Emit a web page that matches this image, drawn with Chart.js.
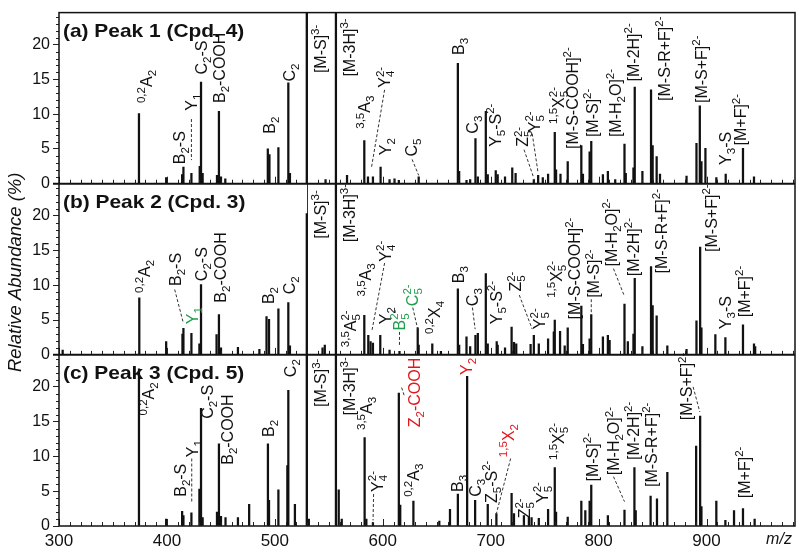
<!DOCTYPE html>
<html><head><meta charset="utf-8">
<script src="https://cdn.jsdelivr.net/npm/chart.js@4.4.1/dist/chart.umd.min.js"></script>
<style>html,body{margin:0;padding:0;background:#fff}canvas{display:block}</style>
</head><body>
<canvas id="c" width="800" height="548"></canvas>
<script>
// ---- data ----
const xTicks = [300, 400, 500, 600, 700, 800, 900];
const yTicks = [0, 5, 10, 15, 20];
const panelTitles = ['(a) Peak 1 (Cpd. 4)', '(b) Peak 2 (Cpd. 3)', '(c) Peak 3 (Cpd. 5)'];
const refLines = [529.6, 556.6];  // [M-S]3- and [M-3H]3- markers

// [m/z, relative abundance %] ; 40 = off-scale peak
const peaksA = [[374.1,10.1],[399.3,0.9],[414.1,1.3],[415.3,2.4],[422.7,1.5],[430.4,2.5],[431.6,14.6],[433.1,1.5],[446.4,1.2],[448.2,10.4],[450.1,1.0],[454.1,0.7],[493.5,5.0],[495.0,4.2],[503.3,5.2],[512.5,14.5],[514.0,1.5],[529.6,40],[547.0,0.6],[556.6,40],[566.9,1.2],[582.9,6.2],[586.3,1.0],[590.9,1.0],[598.0,2.4],[606.3,0.6],[610.9,0.7],[614.9,0.5],[633.3,1.0],[669.6,17.3],[670.8,1.8],[677.6,0.5],[681.0,0.6],[685.9,6.5],[688.1,1.0],[695.5,10.4],[697.3,1.3],[704.7,1.9],[706.5,1.3],[713.3,1.0],[720.0,2.3],[723.1,1.5],[740.0,0.6],[744.0,1.2],[748.3,0.9],[753.2,1.4],[759.4,7.4],[760.6,2.0],[764.7,1.4],[771.4,3.2],[784.0,5.5],[785.5,1.4],[791.7,4.6],[793.2,6.1],[804.0,1.3],[808.6,1.8],[815.4,0.6],[824.0,5.7],[825.2,1.5],[832.3,2.3],[833.5,13.9],[840.6,1.8],[848.6,13.5],[850.1,5.5],[853.8,3.9],[856.9,1.4],[881.5,1.1],[890.7,5.8],[893.8,11.2],[895.3,3.2],[899.0,5.1],[909.1,0.9],[917.8,1.4],[933.8,5.1],[944.0,1.0]];
const peaksB = [[303.4,0.7],[374.4,8.2],[399.3,1.9],[414.4,3.0],[415.3,3.8],[422.7,3.1],[430.1,1.6],[431.6,10.1],[446.0,2.9],[448.2,5.8],[450.1,1.0],[465.8,1.1],[485.7,0.8],[492.3,5.5],[494.6,5.1],[503.3,6.6],[512.5,7.5],[514.0,1.3],[529.6,20.3],[544.2,1.0],[546.3,1.4],[556.6,40],[582.9,5.7],[586.6,2.8],[588.7,1.9],[590.9,1.7],[597.7,2.8],[606.3,0.7],[615.5,0.5],[632.4,3.9],[633.3,1.4],[645.9,1.6],[653.9,0.5],[669.6,9.5],[670.8,1.4],[677.6,2.6],[681.0,1.2],[685.9,2.8],[688.1,3.1],[695.5,11.7],[697.3,1.6],[705.6,1.9],[706.5,1.4],[713.3,1.0],[719.4,4.0],[721.6,1.8],[723.7,1.6],[737.0,1.5],[740.0,2.8],[744.6,1.6],[753.2,2.3],[758.5,3.3],[759.4,5.0],[764.3,3.4],[768.6,1.3],[771.4,3.9],[784.0,7.0],[785.5,1.5],[791.7,2.3],[793.2,5.8],[804.0,2.6],[808.6,2.8],[810.2,2.1],[824.0,7.3],[827.1,1.9],[832.3,3.0],[833.5,11.0],[840.6,1.2],[848.6,12.7],[850.1,7.1],[853.8,5.6],[863.7,1.3],[881.5,0.8],[890.7,4.9],[894.1,15.5],[895.3,3.9],[908.2,2.9],[917.5,2.5],[933.8,4.3],[944.0,1.6],[945.1,1.2]];
const peaksC = [[374.1,22.6],[399.3,1.0],[414.1,2.1],[415.3,1.5],[422.7,1.9],[430.1,5.3],[431.6,16.9],[433.1,1.2],[446.4,2.0],[448.2,11.8],[450.1,1.4],[454.3,1.2],[465.8,1.2],[476.2,3.1],[493.6,11.8],[494.6,3.7],[503.3,5.2],[511.6,8.7],[512.5,19.5],[518.6,3.1],[529.6,40],[531.5,1.0],[556.6,40],[559.2,5.2],[562.0,1.0],[583.2,12.7],[584.8,1.0],[590.9,0.5],[614.9,19.1],[616.2,3.0],[628.4,3.6],[652.4,0.7],[662.3,2.4],[669.6,4.6],[678.2,21.5],[685.6,3.7],[697.3,3.1],[705.3,1.8],[719.4,4.7],[721.6,1.8],[730.8,1.5],[735.4,1.3],[737.9,1.2],[744.6,1.1],[753.2,2.4],[759.4,8.4],[760.6,2.0],[771.4,1.3],[784.0,3.6],[787.7,2.2],[791.7,3.6],[793.2,5.9],[808.6,1.5],[824.0,2.3],[833.2,8.4],[834.4,2.2],[848.2,4.3],[854.1,3.9],[863.7,7.7],[890.4,11.5],[894.1,15.8],[895.3,2.8],[909.1,3.6],[917.5,0.8],[925.5,2.2],[933.8,2.5],[944.6,1.0]];

// ---- annotations (label text, m/z, abundance at text start, optional colour & dashed leader) ----
const GREEN = '#1d9f4c', RED = '#e3161e';
const labelsA = [
 {x:380.9,y:11.6,t:'^{0,2}A_2'},{x:411.6,y:2.8,t:'B_2-S'},{x:422.4,y:10.5,t:'Y_1',lead:[422.7,9.3,422.7,3.4]},
 {x:431.6,y:15.7,t:'C_2-S'},{x:448.5,y:11.6,t:'B_2-COOH'},{x:495,y:7.2,t:'B_2'},{x:513.4,y:14.7,t:'C_2'},
 {x:541.7,y:15.9,t:'[M-S]^{3-}'},{x:568.7,y:15.4,t:'[M-3H]^{3-}'},{x:583.2,y:7.9,t:'^{3,5}A_3'},
 {x:601.7,y:13.8,t:'Y_4^{2-}',lead:[601.7,13.5,589.4,2.2]},{x:602.6,y:4.1,t:'Y_2'},
 {x:626.3,y:3.9,t:'C_5',lead:[627.2,3.5,633.3,1.2]},{x:669.9,y:18.5,t:'B_3'},{x:683.1,y:7.2,t:'C_3'},
 {x:703.8,y:5.3,t:'Y_5-S^{2-}'},{x:729.5,y:5.3,t:'Z_5^{2-}',lead:[730.9,4.9,740,0.8]},
 {x:740,y:7.4,t:'Y_5^{2-}',lead:[738.5,7.2,744,1.5]},{x:762.5,y:8.6,t:'^{1,5}X_5^{2-}'},
 {x:775.4,y:5.0,t:'[M-S-COOH]^{2-}'},{x:793.8,y:6.7,t:'[M-S]^{2-}'},{x:815.4,y:6.7,t:'[M-H_2O]^{2-}'},
 {x:831.7,y:14.7,t:'[M-2H]^{2-}'},{x:860.9,y:11.9,t:'[M-S-R+F]^{2-}'},{x:895.3,y:11.6,t:'[M-S+F]^{2-}'},
 {x:916.9,y:2.7,t:'Y_3-S'},{x:931.7,y:5.5,t:'[M+F]^{2-}'}
];
const labelsB = [
 {x:378.7,y:8.9,t:'^{0,2}A_2'},{x:407.9,y:9.9,t:'B_2-S',lead:[407.2,9.4,415,4.7]},{x:423.3,y:4.4,t:'Y_1',c:GREEN},
 {x:431.9,y:10.6,t:'C_2-S'},{x:449.4,y:7.5,t:'B_2-COOH'},{x:494,y:7.3,t:'B_2'},{x:513.4,y:8.7,t:'C_2'},
 {x:541.7,y:16.7,t:'[M-S]^{3-}'},{x:568.7,y:16.2,t:'[M-3H]^{3-}'},{x:570,y:1.1,t:'^{3,5}A_5^{2-}'},
 {x:584.1,y:8.4,t:'^{3,5}A_3'},{x:602,y:13.4,t:'Y_4^{2-}',lead:[601.7,13.2,590,3.5]},{x:602.3,y:4.4,t:'Y_2'},
 {x:614.9,y:3.5,t:'B_5^{2-}',c:GREEN,lead:[615.5,3.3,615.5,1.2]},{x:627.2,y:7.0,t:'C_5^{2-}',c:GREEN,lead:[627.8,6.8,632.4,3.7]},
 {x:647.8,y:3.0,t:'^{0,2}X_4'},{x:670.2,y:10.3,t:'B_3'},{x:683.1,y:7.0,t:'C_3',lead:[683.1,6.8,685.6,3.7]},
 {x:705.3,y:4.4,t:'Y_5-S^{2-}'},{x:723.1,y:9.1,t:'Z_5^{2-}',lead:[726.5,8.6,738.5,3.7]},{x:744.6,y:3.7,t:'Y_5^{2-}'},
 {x:760.6,y:8.2,t:'^{1,5}X_5^{2-}'},{x:777,y:5.1,t:'[M-S-COOH]^{2-}'},{x:795.4,y:8.2,t:'[M-S]^{2-}',lead:[793.2,8.0,793.2,6.0]},
 {x:811.7,y:12.7,t:'[M-H_2O]^{2-}',lead:[813.8,12.4,824,8.4]},{x:832.3,y:11.3,t:'[M-2H]^{2-}'},
 {x:857.8,y:11.7,t:'[M-S-R+F]^{2-}'},{x:904,y:14.8,t:'[M-S+F]^{2-}'},{x:916.9,y:3.7,t:'Y_3-S'},{x:934.7,y:5.4,t:'[M+F]^{2-}'}
];
const labelsC = [
 {x:382.4,y:15.9,t:'^{0,2}A_2'},{x:412.5,y:4.2,t:'B_2-S'},{x:423.3,y:9.9,t:'Y_1',lead:[423,9.7,423,3.3]},
 {x:437.7,y:15.4,t:'C_2-S'},{x:455.6,y:8.8,t:'B_2-COOH'},{x:494,y:12.8,t:'B_2'},{x:514,y:21.4,t:'C_2'},
 {x:542.3,y:17.1,t:'[M-S]^{3-}'},{x:568.7,y:15.9,t:'[M-3H]^{3-}'},{x:584.8,y:13.8,t:'^{3,5}A_3'},
 {x:594.6,y:4.9,t:'Y_4^{2-}',lead:[591.5,4.6,591,0.8]},{x:629.3,y:14.2,t:'Z_2-COOH',c:RED,lead:[617.5,19.9,619.8,18.8]},
 {x:677.6,y:21.7,t:'Y_2',c:RED},{x:627.8,y:4.2,t:'^{0,2}A_3'},{x:669.3,y:4.9,t:'B_3'},{x:685.6,y:4.2,t:'C_3'},
 {x:700.1,y:3.3,t:'Z_5-S^{2-}'},{x:716.3,y:9.9,t:'^{1,5}X_2',c:RED,lead:[718.5,9.7,705.3,1.8]},
 {x:730.8,y:1.1,t:'Z_5^{2-}'},{x:747.7,y:3.3,t:'Y_5^{2-}'},{x:762.5,y:9.5,t:'^{1,5}X_5^{2-}'},
 {x:793.8,y:6.4,t:'[M-S]^{2-}'},{x:813.8,y:7.3,t:'[M-H_2O]^{2-}',lead:[813.8,7.1,824,3.5]},
 {x:832.3,y:9.5,t:'[M-2H]^{2-}'},{x:848.6,y:5.6,t:'[M-S-R+F]^{2-}'},
 {x:881.5,y:15.2,t:'[M-S+F]^{2-}',lead:[887.6,20.0,893.8,16.4]},{x:934.7,y:4.0,t:'[M+F]^{2-}'}
];

// ---- rendering ----
const FF = '"Liberation Sans", Arial, Helvetica, sans-serif';
Chart.defaults.font.family = FF;
const LABEL_SIZE = 16;

function parseRich(s){
  const out=[]; let i=0, buf='';
  const flush=()=>{ if(buf){ out.push({m:'n',t:buf}); buf=''; } };
  while(i<s.length){
    const c=s[i];
    if(c==='_'||c==='^'){
      flush(); let t;
      if(s[i+1]==='{'){ const j=s.indexOf('}',i+2); t=s.slice(i+2,j); i=j+1; }
      else { t=s[i+1]; i+=2; }
      out.push({m:c==='_'?'sub':'sup',t});
    } else { buf+=c; i++; }
  }
  flush(); return out;
}
function drawRich(ctx, s, size, color){
  const segs=parseRich(s); let x=0, lastSub=null; const small=size*0.72;
  ctx.fillStyle=color; ctx.textBaseline='alphabetic'; ctx.textAlign='left';
  for(const g of segs){
    if(g.m==='n'){ ctx.font=`${size}px ${FF}`; ctx.fillText(g.t,x,0); x+=ctx.measureText(g.t).width; lastSub=null; }
    else if(g.m==='sub'){ ctx.font=`${small}px ${FF}`; ctx.fillText(g.t,x,size*0.25); lastSub=x; x+=ctx.measureText(g.t).width; }
    else { ctx.font=`${small}px ${FF}`; const sx=lastSub!==null?lastSub:x; ctx.fillText(g.t,sx,-size*0.42); x=Math.max(x,sx+ctx.measureText(g.t).width); lastSub=null; }
  }
}

const panels = [
  {id:'yA', labels:labelsA, title:panelTitles[0]},
  {id:'yB', labels:labelsB, title:panelTitles[1]},
  {id:'yC', labels:labelsC, title:panelTitles[2]}
];

const spectrumPlugin = {
  id:'spectrum',
  beforeDatasetsDraw(chart){
    const ctx=chart.ctx, a=chart.chartArea, xs=chart.scales.x;
    ctx.save(); ctx.strokeStyle='#333'; ctx.lineWidth=1;
    for(const m of refLines){ const px=Math.round(xs.getPixelForValue(m))+0.5; ctx.beginPath(); ctx.moveTo(px,a.top); ctx.lineTo(px,a.bottom); ctx.stroke(); }
    ctx.restore();
  },
  beforeDatasetDraw(chart,args){
    const ys=args.meta.yScale, a=chart.chartArea, ctx=chart.ctx;
    ctx.save(); ctx.beginPath(); ctx.rect(a.left, ys.top, a.right-a.left, ys.bottom-ys.top); ctx.clip();
  },
  afterDatasetDraw(chart){ chart.ctx.restore(); },
  afterDatasetsDraw(chart){
    const ctx=chart.ctx, a=chart.chartArea, xs=chart.scales.x;
    for(const p of panels){
      const ys=chart.scales[p.id];
      ctx.save(); ctx.strokeStyle='#333'; ctx.lineWidth=1; ctx.setLineDash([3,2]);
      for(const l of p.labels){ if(!l.lead) continue;
        ctx.beginPath(); ctx.moveTo(xs.getPixelForValue(l.lead[0]), ys.getPixelForValue(l.lead[1]));
        ctx.lineTo(xs.getPixelForValue(l.lead[2]), ys.getPixelForValue(l.lead[3])); ctx.stroke(); }
      ctx.restore();
      for(const l of p.labels){
        ctx.save(); ctx.translate(xs.getPixelForValue(l.x), ys.getPixelForValue(l.y)); ctx.rotate(-Math.PI/2);
        ctx.translate(0, LABEL_SIZE*0.36); drawRich(ctx, l.t, LABEL_SIZE, l.c||'#111'); ctx.restore();
      }
      ctx.save(); ctx.font=`bold 18.5px ${FF}`; ctx.fillStyle='#111'; ctx.textBaseline='alphabetic'; ctx.textAlign='left';
      ctx.translate(a.left+4, ys.top+24); ctx.scale(1.13,1); ctx.fillText(p.title, 0, 0); ctx.restore();
      ctx.save(); ctx.strokeStyle='#222'; ctx.lineWidth=1;
      for(let m=300;m<=xs.max;m+=10){ const px=Math.round(xs.getPixelForValue(m))+0.5; const len=(m%100===0)?7:4;
        ctx.beginPath(); ctx.moveTo(px,ys.bottom); ctx.lineTo(px,ys.bottom-len); ctx.stroke(); }
      for(let v=0; v<=ys.max; v+=1){ if(v%5===0) continue; const py=Math.round(ys.getPixelForValue(v))+0.5;
        ctx.beginPath(); ctx.moveTo(a.left,py); ctx.lineTo(a.left-3,py); ctx.stroke(); }
      ctx.restore();
    }
    ctx.save(); ctx.strokeStyle='#111'; ctx.lineWidth=1.5;
    ctx.strokeRect(a.left, a.top, a.right-a.left, a.bottom-a.top);
    ctx.lineWidth=2;
    for(const id of ['yA','yB']){ const y=chart.scales[id].bottom; ctx.beginPath(); ctx.moveTo(a.left-6,y); ctx.lineTo(a.right,y); ctx.stroke(); }
    ctx.restore();
    ctx.save(); ctx.fillStyle='#111';
    ctx.font=`italic 18.5px ${FF}`; ctx.textAlign='center'; ctx.textBaseline='middle';
    ctx.translate(16, (a.top+a.bottom)/2+3); ctx.rotate(-Math.PI/2); ctx.fillText('Relative Abundance (%)',0,0);
    ctx.restore();
    ctx.save(); ctx.fillStyle='#111'; ctx.font=`italic 16px ${FF}`; ctx.textAlign='center'; ctx.textBaseline='middle';
    ctx.fillText('m/z', 779, 540); ctx.restore();
  }
};

const toXY = arr => arr.map(p=>({x:p[0], y:p[1]}));
const ds = (arr, id) => ({data:toXY(arr), yAxisID:id, backgroundColor:'#111', borderWidth:0, barThickness:1.6, grouped:false});

function yScale(){
  return {
    type:'linear', position:'left', stack:'panels', stackWeight:1, min:0, max:24.6,
    afterBuildTicks(s){ s.ticks = yTicks.map(v=>({value:v})); },
    afterFit(s){ s.width = 59; },
    grid:{display:true, drawOnChartArea:false, drawTicks:true, tickLength:6, color:'#222', lineWidth:1},
    border:{display:false},
    ticks:{font:{size:16}, color:'#111', padding:3, autoSkip:false}
  };
}

new Chart(document.getElementById('c'), {
  type:'bar',
  data:{datasets:[ds(peaksA,'yA'), ds(peaksB,'yB'), ds(peaksC,'yC')]},
  options:{
    responsive:false, animation:false, devicePixelRatio:1,
    layout:{padding:{top:5, right:5, left:0, bottom:0}},
    plugins:{legend:{display:false}, tooltip:{enabled:false}},
    scales:{
      x:{type:'linear', position:'bottom', min:300, max:982, offset:false,
         afterBuildTicks(s){ s.ticks = xTicks.map(v=>({value:v})); },
         afterFit(s){ s.height = 22; },
         grid:{display:false, drawTicks:false, offset:false}, border:{display:false},
         ticks:{font:{size:17}, color:'#111', padding:5, maxRotation:0, autoSkip:false}},
      yC: yScale(),
      yB: yScale(),
      yA: yScale()
    }
  },
  plugins:[spectrumPlugin]
});
</script>
</body></html>
